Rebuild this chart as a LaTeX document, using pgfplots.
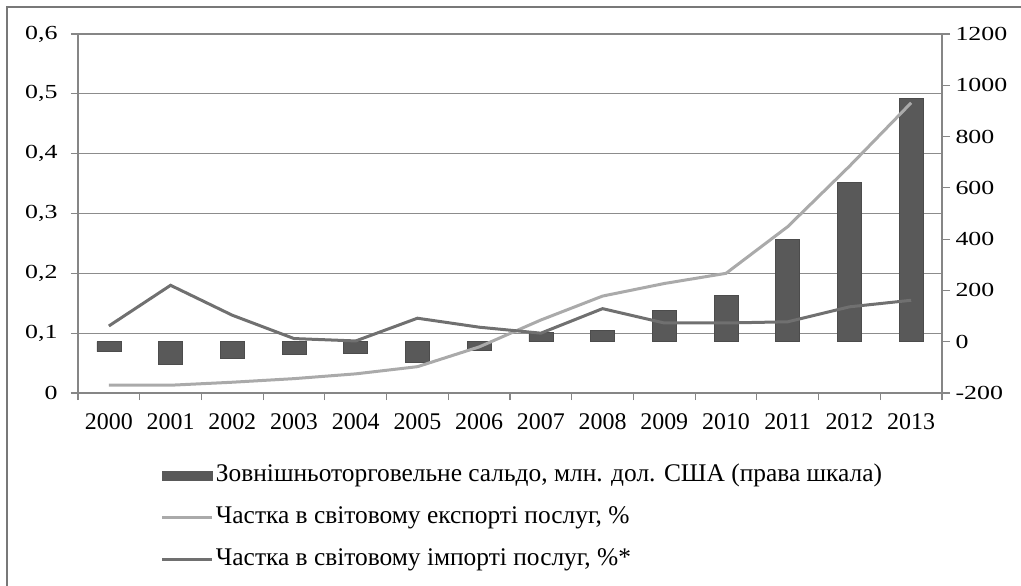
\documentclass[border=0pt]{standalone}
\usepackage{fontspec}
\setmainfont{Liberation Serif}
\usepackage{graphicx}
\usepackage{pgfplots}
\pgfplotsset{compat=1.18}
\newcommand{\ys}[1]{\scalebox{1.3}[1]{#1}}
\definecolor{axc}{RGB}{134,134,134}
\definecolor{gridc}{RGB}{140,140,140}
\definecolor{barc}{RGB}{89,89,89}
\definecolor{expc}{RGB}{170,170,170}
\definecolor{impc}{RGB}{112,112,112}
\definecolor{framec}{RGB}{120,120,120}
\begin{document}
\begin{tikzpicture}[font=\fontsize{24}{28}\selectfont]
\pgfplotsset{every axis/.append style={scale only axis, width=864bp, height=359bp,
  xmin=-0.5, xmax=13.5, axis line style={axc, line width=1.2bp},
  tick style={axc, line width=1.2bp}, tick align=outside,
  yticklabel style={font=\fontsize{20}{24}\selectfont},
  xticklabel style={font=\fontsize{24}{28}\selectfont}}}
% axis 1: grid, left ticks, x ticks
\begin{axis}[ymin=0, ymax=0.6,
  xtick pos=bottom, ytick pos=left,
  ytick={0,0.1,0.2,0.3,0.4,0.5,0.6},
  yticklabels={\ys{0},{\ys{0,1}},{\ys{0,2}},{\ys{0,3}},{\ys{0,4}},{\ys{0,5}},{\ys{0,6}}},
  ymajorgrids, grid style={gridc, line width=1.2bp},
  major tick length=7bp,
  yticklabel style={xshift=-10bp},
  xtick={-0.5,0.5,...,13.5},
  xticklabels={},
  extra x ticks={0,...,13},
  extra x tick labels={2000,2001,2002,2003,2004,2005,2006,2007,2008,2009,2010,2011,2012,2013},
  extra x tick style={major tick length=0pt, xticklabel style={yshift=-17bp}},
]
\end{axis}
% axis 2: bars, right axis
\begin{axis}[ymin=-200, ymax=1200,
  axis x line=none, axis y line*=right,
  ytick={-200,0,200,400,600,800,1000,1200},
  yticklabels={\ys{-200},\ys{0},\ys{200},\ys{400},\ys{600},\ys{800},\ys{1000},\ys{1200}},
  yticklabel style={xshift=2bp},
  major tick length=8bp,
  ybar, bar width=24bp,
]
\addplot[fill=barc, draw=barc!85!black, line width=0.6bp] coordinates {
(0,-39) (1,-87) (2,-65) (3,-49) (4,-45) (5,-82) (6,-35)
(7,35) (8,43) (9,123) (10,181) (11,400) (12,620) (13,948)};
\end{axis}
% axis 3: lines + legend
\begin{axis}[ymin=0, ymax=0.6, axis lines=none, xtick=\empty, ytick=\empty,
  legend style={at={(0.096,-0.197)}, anchor=north west, draw=none, fill=none,
    inner sep=0pt, outer sep=0pt,
    font=\fontsize{25.5}{29}\selectfont, row sep=18bp,
    nodes={inner xsep=2bp, inner ysep=0bp, text height=18bp, text depth=6bp}},
  legend cell align=left,
]
\addlegendimage{legend image code/.code={\fill[barc] (0bp,-4.5bp) rectangle (50bp,4.5bp);}}
\addlegendentry{Зовнішньоторговельне сальдо, млн. дол. США (права шкала)}
\addplot[expc, line width=3bp, legend image code/.code={\draw[expc, line width=3bp] (0bp,0bp) -- (50bp,0bp);}] coordinates {
(0,0.013) (1,0.013) (2,0.018) (3,0.024) (4,0.032) (5,0.044) (6,0.077)
(7,0.122) (8,0.162) (9,0.183) (10,0.2) (11,0.278) (12,0.379) (13,0.485)};
\addlegendentry{Частка в світовому експорті послуг, \%}
\addplot[impc, line width=3bp, legend image code/.code={\draw[impc, line width=3bp] (0bp,0bp) -- (50bp,0bp);}] coordinates {
(0,0.112) (1,0.18) (2,0.13) (3,0.091) (4,0.087) (5,0.125) (6,0.11)
(7,0.1) (8,0.141) (9,0.117) (10,0.117) (11,0.119) (12,0.144) (13,0.155)};
\addlegendentry{Частка в світовому імпорті послуг, \%*}
\end{axis}
\draw[framec, line width=1.5bp] ([xshift=-71bp,yshift=-193bp]current axis.south west) -- ([xshift=-71bp,yshift=386bp]current axis.south west) -- ([xshift=943bp,yshift=386bp]current axis.south west);
\pgfresetboundingbox
\path ([xshift=-78bp,yshift=-193bp]current axis.south west) rectangle ++(1021bp,586bp);
\end{tikzpicture}
\end{document}
